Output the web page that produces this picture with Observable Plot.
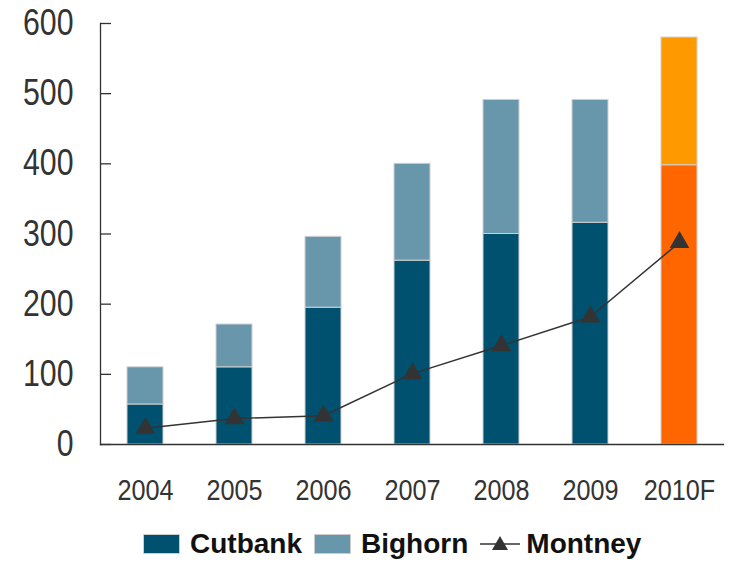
<!DOCTYPE html>
<html><head><meta charset="utf-8">
<script src="https://cdn.jsdelivr.net/npm/d3@7"></script>
<script src="https://cdn.jsdelivr.net/npm/@observablehq/plot@0.6"></script>
<style>
body{margin:0;background:#fff;width:729px;height:562px;overflow:hidden;position:relative;}
#legend{position:absolute;left:143px;top:528px;display:flex;align-items:center;font-family:"Liberation Sans",Arial,sans-serif;font-weight:bold;font-size:28px;color:#111;white-space:nowrap;}
.sw{display:inline-block;width:37px;height:20px;margin-right:10px;box-sizing:border-box;border:1px solid #ccc;}
.item{display:flex;align-items:center;margin-right:12px;}
</style></head><body>
<div id="chart"></div>
<div id="legend">
 <span class="item"><span class="sw" style="background:#00516f"></span>Cutbank</span>
 <span class="item"><span class="sw" style="background:#6897ab"></span>Bighorn</span>
 <span class="item"><svg width="40" height="22" style="margin-right:6px"><line x1="0" y1="11" x2="40" y2="11" stroke="#333" stroke-width="1.5"/><path d="M20,3 L28,17 L12,17 Z" fill="#333"/></svg>Montney</span>
</div>
<script>
const years = ["2004","2005","2006","2007","2008","2009","2010F"];
const cutbank = [57, 110, 195, 262, 300, 316, 398];
const bighorn = [53, 61, 101, 138, 191, 175, 182];
const montney = [23, 37, 41, 101, 141, 182, 288];
const yTicks = [0,100,200,300,400,500,600];
const colCut = "#00516f", colBig = "#6897ab", colCutF = "#ff6600", colBigF = "#ff9900";

const rows = [];
years.forEach((y,i)=>{
  const f = y.endsWith("F");
  rows.push({year:y, series:"Cutbank", value:cutbank[i], color: f?colCutF:colCut});
  rows.push({year:y, series:"Bighorn", value:bighorn[i], color: f?colBigF:colBig});
});
const line = years.map((y,i)=>({year:y, value:montney[i]}));

const font = '"Liberation Sans",Arial,sans-serif';
const plot = Plot.plot({
  width:729, height:510,
  marginLeft:100, marginRight:6, marginTop:23, marginBottom:66,
  style:{fontFamily:font, color:"#333", background:"#fff"},
  x:{domain:years, paddingInner:0.6, paddingOuter:0.3, label:null},
  y:{domain:[0,600], label:null},
  color:{type:"identity"},
  marks:[
    Plot.barY(rows, Plot.stackY({x:"year", y:"value", fill:"color", stroke:"#d0d0d0", strokeWidth:1, order:["Cutbank","Bighorn"], z:"series"})),
    Plot.axisY(yTicks, {tickSize:-11, tickPadding:38, fontSize:36, stroke:"#333", strokeWidth:1.3, fill:"#333", className:"yax"}),
    Plot.axisX({tickSize:0, tickPadding:35, fontSize:29, fill:"#333", className:"xax"}),
    Plot.frame({anchor:"left", stroke:"#333", strokeWidth:1.3}),
    Plot.frame({anchor:"bottom", stroke:"#333", strokeWidth:1.3}),
    Plot.line(line, {x:"year", y:"value", stroke:"#333", strokeWidth:1.5}),
    Plot.dot(line, {x:"year", y:"value", symbol:"triangle", r:7.3, fill:"#333", stroke:"none"})
  ]
});
document.getElementById("chart").appendChild(plot);
// condense axis labels (the original uses a narrow face)
function condense(sel, k){
  plot.querySelectorAll(sel + " text").forEach(t=>{
    const w = t.getComputedTextLength();
    t.setAttribute("textLength", (w*k).toFixed(1));
    t.setAttribute("lengthAdjust","spacingAndGlyphs");
  });
}
condense(".yax", 0.84);
condense(".xax", 0.87);
</script>
</body></html>
